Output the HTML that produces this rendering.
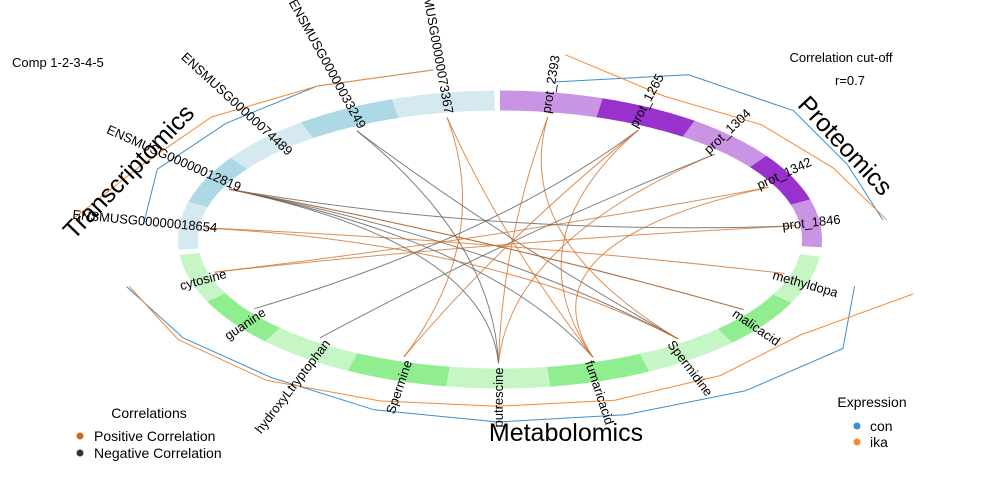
<!DOCTYPE html>
<html><head><meta charset="utf-8">
<style>
html,body{margin:0;padding:0;background:#fff;}
svg{display:block;font-family:"Liberation Sans",sans-serif;}
</style></head>
<body>
<svg id="chart" width="1000" height="480" viewBox="0 0 1000 480" xmlns="http://www.w3.org/2000/svg">
  <rect width="1000" height="480" fill="#fff"/>
  <g id="links"></g>
  <g id="ring"></g>
  <g id="expr"></g>
  <g id="labels"></g>

  <text x="12" y="67" font-size="13">Comp 1-2-3-4-5</text>
  <text x="841" y="62" font-size="13" text-anchor="middle">Correlation cut-off</text>
  <text x="850" y="85" font-size="13" text-anchor="middle">r=0.7</text>

  <text x="0" y="0" font-size="25" text-anchor="middle" dominant-baseline="central" transform="translate(129,172) rotate(-46)">Transcriptomics</text>
  <text x="0" y="0" font-size="25" text-anchor="middle" dominant-baseline="central" transform="translate(845,146) rotate(47)">Proteomics</text>
  <text x="566" y="433" font-size="25" text-anchor="middle" dominant-baseline="central">Metabolomics</text>

  <g>
    <text x="149" y="418" font-size="14" text-anchor="middle">Correlations</text>
    <circle cx="80" cy="436" r="3.5" fill="#d2691e"/>
    <text x="94" y="441" font-size="14">Positive Correlation</text>
    <circle cx="80" cy="453" r="3.5" fill="#333"/>
    <text x="94" y="458" font-size="14">Negative Correlation</text>
  </g>
  <g>
    <text x="872" y="407" font-size="14" text-anchor="middle">Expression</text>
    <circle cx="857" cy="426" r="3.5" fill="#3a8fd0"/>
    <text x="870" y="431" font-size="14">con</text>
    <circle cx="857" cy="442" r="3.5" fill="#f58a34"/>
    <text x="870" y="447" font-size="14">ika</text>
  </g>
</svg>
<script>
// ---- data ----
const protNames = ["prot_1846","prot_1342","prot_1304","prot_1265","prot_2393"];
const transNames = ["ENSMUSG00000073367","ENSMUSG00000033249","ENSMUSG00000074489","ENSMUSG00000012819","ENSMUSG00000018654"];
const metabNames = ["cytosine","guanine","hydroxyLtryptophan","Spermine","putrescine","fumaricacid","Spermidine","malicacid","methyldopa"];
const blockStart = [-3, 91, 186];
const segSpan = 18.6;
const protCon = [1.196,1.19,1.256,1.251,1.072];
const protIka = [1.208,1.141,1.119,1.089,1.256];
const transCon = [1.157,1.176,1.154,1.164,1.112];
const transIka = [1.157,1.176,1.216,1.221,1.34];
const metabCon = [1.202,1.185,1.167,1.208,1.225,1.239,1.27,1.292,1.145];
const metabIka = [1.194,1.204,1.191,1.146,1.119,1.136,1.141,1.132,1.334];
const linkFrom = ["ENSMUSG00000012819","ENSMUSG00000012819","ENSMUSG00000012819","ENSMUSG00000012819","ENSMUSG00000012819","ENSMUSG00000033249","ENSMUSG00000033249","guanine","hydroxyLtryptophan","ENSMUSG00000018654","ENSMUSG00000018654","cytosine","cytosine","ENSMUSG00000073367","ENSMUSG00000073367","prot_2393","prot_2393","prot_1265","prot_1265","malicacid","prot_1342","prot_1304"];
const linkTo = ["prot_1846","Spermidine","fumaricacid","malicacid","putrescine","putrescine","Spermidine","prot_1265","prot_1304","methyldopa","Spermidine","prot_1342","prot_1846","fumaricacid","Spermine","Spermidine","putrescine","Spermine","fumaricacid","ENSMUSG00000012819","fumaricacid","putrescine"];
const linkSign = [-1,-1,-1,-1,-1,-1,-1,-1,-1,1,1,1,1,1,1,1,1,1,1,1,1,1];

// ---- geometry ----
const CX=500, CY=239.5, RX=322, RY=149, W=20;
const NS="http://www.w3.org/2000/svg";
const rad=d=>d*Math.PI/180;
function pt(th,r){return [CX+r*RX*Math.cos(rad(th)), CY-r*RY*Math.sin(rad(th))];}
function ept(th,rx,ry){return [CX+rx*Math.cos(rad(th)), CY-ry*Math.sin(rad(th))];}
const blocks=[
 {names:protNames,con:protCon,ika:protIka,start:blockStart[0],light:"#c994e4",dark:"#9932cc",key:"proteomics"},
 {names:transNames,con:transCon,ika:transIka,start:blockStart[1],light:"#d4e9f0",dark:"#add8e6",key:"transcriptomics"},
 {names:metabNames,con:metabCon,ika:metabIka,start:blockStart[2],light:"#c6f5c6",dark:"#90ee90",key:"metabolomics"}
];
const angleOf={};
blocks.forEach(b=>b.names.forEach((n,i)=>{angleOf[n]=b.start+segSpan*(i+0.5);}));

const ring=document.getElementById('ring');
blocks.forEach(b=>{
  b.names.forEach((n,i)=>{
    const a0=b.start+segSpan*i, a1=a0+segSpan;
    let d="";
    for(let k=0;k<=20;k++){const a=a0+(a1-a0)*k/20;const p=ept(a,RX,RY);d+=(k?"L":"M")+p[0].toFixed(1)+","+p[1].toFixed(1);}
    for(let k=20;k>=0;k--){const a=a0+(a1-a0)*k/20;const p=ept(a,RX-W,RY-W);d+="L"+p[0].toFixed(1)+","+p[1].toFixed(1);}
    const el=document.createElementNS(NS,'path');
    el.setAttribute('d',d+"Z");
    el.setAttribute('fill', i%2===0?b.light:b.dark);
    
    
    ring.appendChild(el);
  });
});

const expr=document.getElementById('expr');
blocks.forEach(b=>{
  [["con",b.con,"#3a8fd0"],["ika",b.ika,"#f58a34"]].forEach(s=>{
    const pts=b.names.map((n,i)=>pt(angleOf[n],s[1][i]));
    const el=document.createElementNS(NS,'polyline');
    el.setAttribute('points',pts.map(p=>p[0].toFixed(1)+","+p[1].toFixed(1)).join(" "));
    el.setAttribute('fill','none');el.setAttribute('stroke',s[2]);el.setAttribute('stroke-width','1');
    
    
    expr.appendChild(el);
  });
});

const lab=document.getElementById('labels');
Object.keys(angleOf).forEach(n=>{
  const th=angleOf[n];
  const p=ept(th,284,128);
  const left = th>90 && th<270;
  const rot = left ? 180-th : -th;
  const t=document.createElementNS(NS,'text');
  t.setAttribute('x',0);t.setAttribute('y',0);
  t.setAttribute('font-size','13');
  t.setAttribute('dominant-baseline','central');
  t.setAttribute('text-anchor', left?'end':'start');
  t.setAttribute('transform','translate('+p[0].toFixed(1)+','+p[1].toFixed(1)+') rotate('+rot.toFixed(1)+')');
  t.textContent=n;
  
  
  lab.appendChild(t);
});

const links=document.getElementById('links');
linkFrom.forEach((f,i)=>{
  const a=ept(angleOf[f],296,124), b=ept(angleOf[linkTo[i]],296,124);
  const mx=(a[0]+b[0])/2, my=(a[1]+b[1])/2;
  const cx=CX*0.9+mx*0.1, cy=CY*0.9+my*0.1;
  const el=document.createElementNS(NS,'path');
  el.setAttribute('d','M'+a[0].toFixed(1)+','+a[1].toFixed(1)+' Q'+cx.toFixed(1)+','+cy.toFixed(1)+' '+b[0].toFixed(1)+','+b[1].toFixed(1));
  el.setAttribute('fill','none');
  el.setAttribute('stroke', linkSign[i]>0?'#d2691e':'#555');
  el.setAttribute('stroke-opacity','0.75');
  el.setAttribute('stroke-width','1');
  
  
  links.appendChild(el);
});
</script>
</body></html>
